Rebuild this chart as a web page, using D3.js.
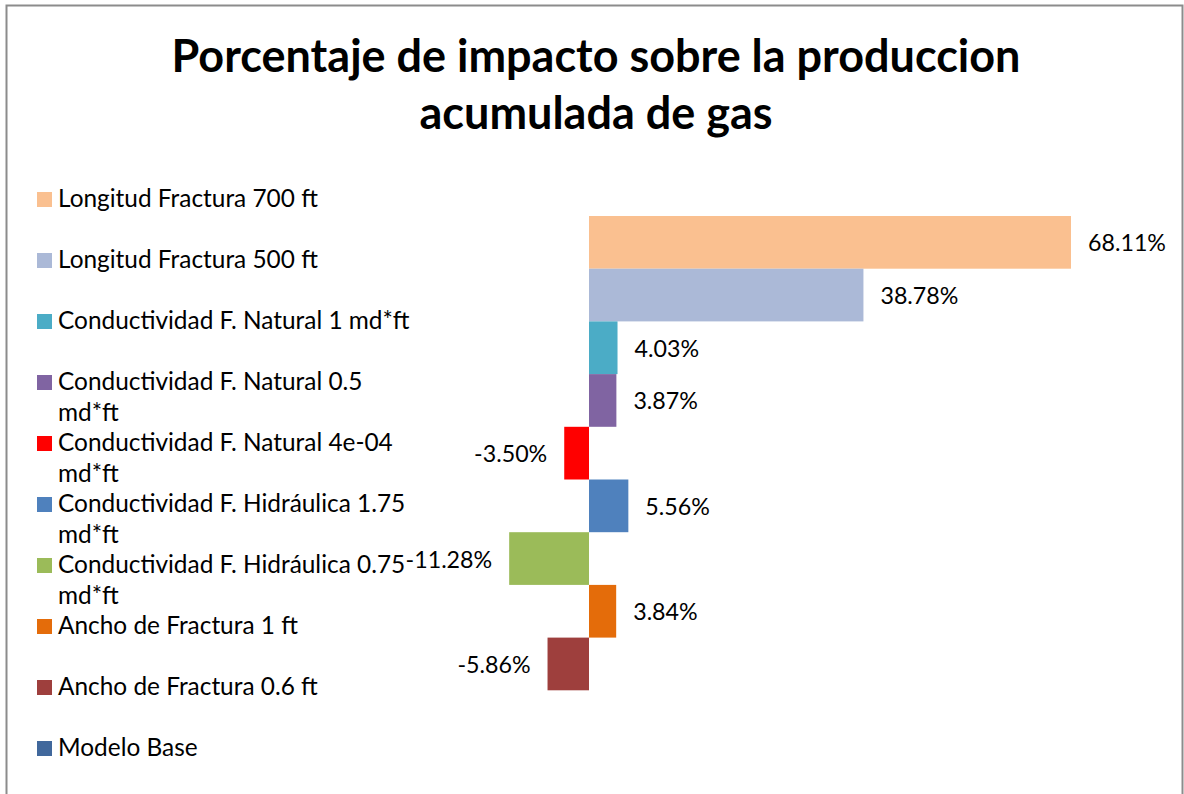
<!DOCTYPE html>
<html>
<head>
<meta charset="utf-8">
<script src="https://cdn.jsdelivr.net/npm/d3@7"></script>
<style>
  html, body { margin: 0; padding: 0; background: #fff; }
  svg { display: block; }
</style>
</head>
<body>
<svg id="chart" width="1184" height="794"></svg>
<script>
// ---- data ----
const titleLines = ["Porcentaje de impacto sobre la produccion", "acumulada de gas"];
const categories = [
  "Longitud Fractura 700 ft",
  "Longitud Fractura 500 ft",
  "Conductividad F. Natural 1 md*ft",
  "Conductividad F. Natural 0.5 md*ft",
  "Conductividad F. Natural 4e-04 md*ft",
  "Conductividad F. Hidráulica 1.75 md*ft",
  "Conductividad F. Hidráulica 0.75 md*ft",
  "Ancho de Fractura 1 ft",
  "Ancho de Fractura 0.6 ft",
  "Modelo Base"
];
const values = [68.11, 38.78, 4.03, 3.87, -3.50, 5.56, -11.28, 3.84, -5.86, 0];
const colors = ["#FAC090", "#ABB9D7", "#4BACC6", "#8064A2", "#FF0000",
                "#4F81BD", "#9BBB59", "#E46C0A", "#9E3F3D", "#41689C"];

// ---- layout ----
const svg = d3.select("#chart");
const FONT = "Lato, 'Open Sans', sans-serif";

// border
svg.append("rect")
  .attr("x", 6.5).attr("y", 5.5).attr("width", 1176).attr("height", 800)
  .attr("fill", "#fff").attr("stroke", "#8c8c8c").attr("stroke-width", 2);

// measure helper for font sizing
function fitSize(text, weight, targetWidth) {
  const t = svg.append("text").attr("font-family", FONT).attr("font-weight", weight)
    .attr("font-size", 100).text(text);
  const w = t.node().getComputedTextLength();
  t.remove();
  return 100 * targetWidth / w;
}

const titleSize = fitSize(titleLines[0], "bold", 849);
const title = svg.append("text")
  .attr("font-family", FONT).attr("font-weight", "bold")
  .attr("font-size", titleSize).attr("text-anchor", "middle").attr("fill", "#000");
titleLines.forEach((l, i) => {
  title.append("tspan").attr("x", 596).attr("y", 72 + i * 57).text(l);
});

const labelSize = fitSize("Longitud Fractura 700 ft", "normal", 260);
const valueSize = fitSize("68.11%", "normal", 78);

// scales
const x = d3.scaleLinear().domain([0, 68.11]).range([589, 1071]);
const y = d3.scaleBand().domain(categories).range([216, 743]).padding(0);

// bars
svg.append("g").selectAll("rect")
  .data(categories.map((c, i) => ({ c, v: values[i], col: colors[i] })).filter(d => d.v !== 0))
  .join("rect")
  .attr("x", d => Math.min(x(0), x(d.v)))
  .attr("y", d => y(d.c))
  .attr("width", d => Math.abs(x(d.v) - x(0)))
  .attr("height", y.bandwidth())
  .attr("fill", d => d.col);

// data labels
const fmt = v => v.toFixed(2) + "%";
svg.append("g").selectAll("text")
  .data(categories.map((c, i) => ({ c, v: values[i] })).filter(d => d.v !== 0))
  .join("text")
  .attr("font-family", FONT).attr("font-size", valueSize).attr("fill", "#000")
  .attr("x", d => d.v >= 0 ? x(d.v) + 17 : x(d.v) - 17)
  .attr("y", d => y(d.c) + y.bandwidth() / 2 + 9)
  .attr("text-anchor", d => d.v >= 0 ? "start" : "end")
  .text(d => fmt(d.v));

// legend
const legend = svg.append("g");
const wrapWidth = 355;
categories.forEach((c, i) => {
  const base = 207 + i * 61;
  legend.append("rect")
    .attr("x", 37).attr("y", base - 15).attr("width", 15).attr("height", 15)
    .attr("fill", colors[i]);
  const t = legend.append("text")
    .attr("font-family", FONT).attr("font-size", labelSize).attr("fill", "#000");
  // greedy wrap
  const words = c.split(" ");
  let line = [];
  let lineNo = 0;
  let tspan = t.append("tspan").attr("x", 58).attr("y", base);
  words.forEach(w => {
    line.push(w);
    tspan.text(line.join(" "));
    if (tspan.node().getComputedTextLength() > wrapWidth && line.length > 1) {
      line.pop();
      tspan.text(line.join(" "));
      line = [w];
      lineNo++;
      tspan = t.append("tspan").attr("x", 58).attr("y", base + lineNo * 31).text(w);
    }
  });
});
</script>
</body>
</html>
